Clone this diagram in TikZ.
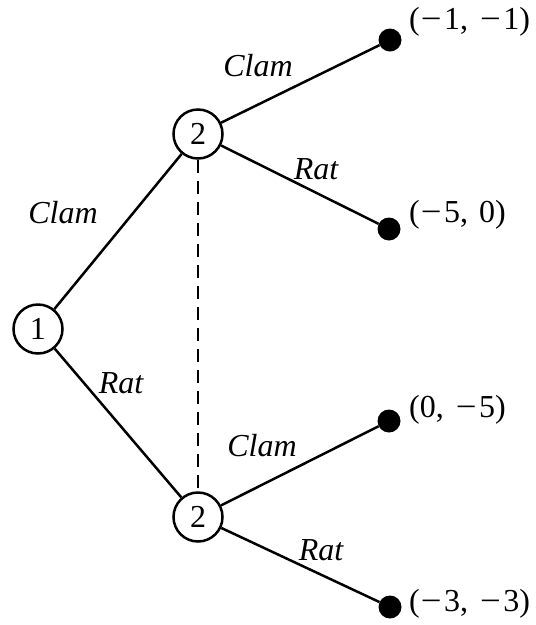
\documentclass[tikz,border=0pt]{standalone}
\usepackage{fontspec}
\usepackage{graphicx}
\setmainfont{Liberation Serif}
\newcommand{\mn}{\kern1pt\scalebox{1.15}[1]{−}\kern2.5pt}
\newcommand{\cs}{,\kern11pt}
\begin{document}
\begin{tikzpicture}[x=1pt,y=-1pt,
  dnode/.style={circle,draw,line width=2.5pt,minimum size=49pt,inner sep=0pt,font=\fontsize{32}{36}\selectfont},
  leaf/.style={circle,fill,minimum size=23pt,inner sep=0pt},
  edge/.style={line width=2.5pt},
  elab/.style={font=\fontsize{32}{36}\selectfont\itshape},
  pay/.style={anchor=west,inner sep=0pt,font=\fontsize{32}{36}\selectfont}]
\useasboundingbox (0,0) rectangle (536,625);
\node[dnode] (n1) at (38,329) {1};
\node[dnode] (a) at (198,134) {2};
\node[dnode] (b) at (198,517) {2};
\node[leaf] (l1) at (390,40) {};
\node[leaf] (l2) at (389,229) {};
\node[leaf] (l3) at (389,421) {};
\node[leaf] (l4) at (390,607) {};
\draw[edge] (n1) -- (a);
\draw[edge] (n1) -- (b);
\draw[edge] (a) -- (l1);
\draw[edge] (a) -- (l2);
\draw[edge] (b) -- (l3);
\draw[edge] (b) -- (l4);
\draw[edge,dash pattern=on 13pt off 8pt] (a) -- (b);
\node[elab] (e1) at (63,213) {Clam};
\node[elab] (e2) at (121,383) {Rat};
\node[elab] (e3) at (258,66) {Clam};
\node[elab] (e4) at (316,169) {Rat};
\node[elab] (e5) at (262,446) {Clam};
\node[elab] (e6) at (321,550) {Rat};
\node[pay] (p1) at (409,22) {(\mn1\cs\mn1)};
\node[pay] (p2) at (409,215) {(\mn5\cs0)};
\node[pay] (p3) at (409,410) {(0\cs\mn5)};
\node[pay] (p4) at (409,604) {(\mn3\cs\mn3)};
\end{tikzpicture}
\end{document}
